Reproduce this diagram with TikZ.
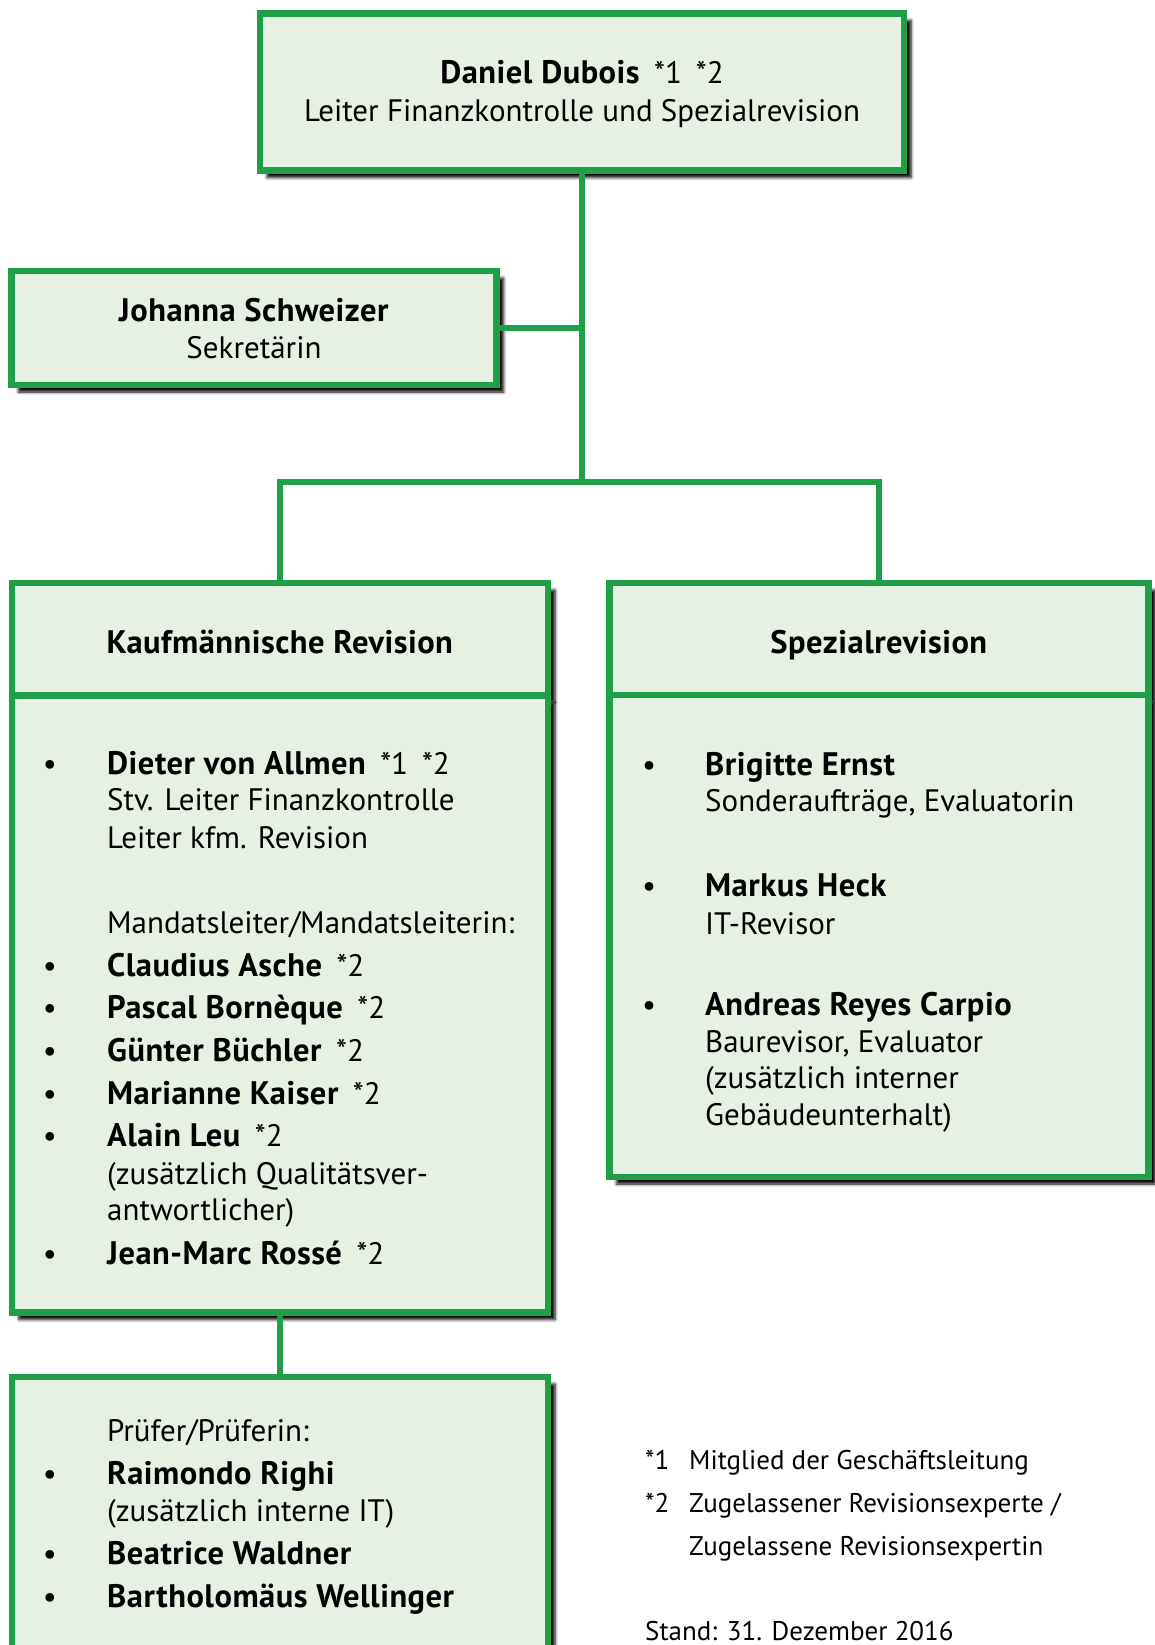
\documentclass[tikz,border=0pt]{standalone}
\usepackage{fontspec}
\setmainfont{PT Sans}[BoldFeatures={Scale=1.05, LetterSpace=1.5}]
\usetikzlibrary{positioning,shadows.blur}
\definecolor{efkgreen}{RGB}{31,160,72}
\definecolor{efkfill}{RGB}{230,240,227}

\begin{document}
\begin{tikzpicture}[
    x=1pt, y=-1pt,
    box/.style={rectangle, draw=efkgreen, line width=6.5pt, fill=efkfill, inner sep=0pt,
        blur shadow={shadow xshift=7pt, shadow yshift=-7pt, shadow blur radius=3pt,
            shadow blur steps=5, shadow opacity=100}},
    link/.style={draw=efkgreen, line width=5.5pt},
    txt/.style={anchor=base west, inner sep=0pt, font=\fontsize{31}{37}\selectfont},
    ctxt/.style={txt, anchor=base},
    dotb/.style={txt, anchor=base},
    note/.style={txt, font=\fontsize{27}{33}\selectfont}
]
\useasboundingbox (0,0) rectangle (1154,1645);

% level 1
\node[box, minimum width=644pt, minimum height=157pt] (dubois) at (582,92) {};
\node[ctxt] (duboisname) at (582,84) {\textbf{Daniel Dubois}\hspace{14pt}*1\hspace{14pt}*2};
\node[ctxt] (duboisrole) at (582,122) {Leiter Finanzkontrolle und Spezialrevision};

% staff
\node[box, minimum width=485pt, minimum height=114pt] (schweizer) at (254,328) {};
\node[ctxt] (schweizername) at (254,321) {\textbf{Johanna Schweizer}};
\node[ctxt] (schweizerrole) at (254,358) {Sekretärin};

% level 2 - headers
\node[box, minimum width=536pt, minimum height=112pt] (kfmhead) at (280,639) {};
\node[ctxt] (kfmtitle) at (280,653) {\textbf{Kaufmännische Revision}};
\node[box, minimum width=539pt, minimum height=112pt] (spezhead) at (879,639) {};
\node[ctxt] (speztitle) at (879,653) {\textbf{Spezialrevision}};

% level 2 - bodies
\node[box, minimum width=536pt, minimum height=617pt] (kfm) at (280,1004) {};
\node[box, minimum width=539pt, minimum height=482pt] (spez) at (879,936) {};

% kfm. Revision
\node[dotb] (k1) at (50,774) {\textbullet};
\node[txt] (vonallmen) at (107,774) {\textbf{Dieter von Allmen}\hspace{14pt}*1\hspace{14pt}*2};
\node[txt] at (107,810) {Stv. Leiter Finanzkontrolle};
\node[txt] at (107,848) {Leiter kfm. Revision};
\node[txt] at (107,933) {Mandatsleiter/Mandatsleiterin:};
\node[dotb] (k2) at (50,976) {\textbullet};
\node[txt] (asche) at (107,976) {\textbf{Claudius Asche}\hspace{14pt}*2};
\node[dotb] (k3) at (50,1018) {\textbullet};
\node[txt] (borneque) at (107,1018) {\textbf{Pascal Bornèque}\hspace{14pt}*2};
\node[dotb] (k4) at (50,1061) {\textbullet};
\node[txt] (buechler) at (107,1061) {\textbf{Günter Büchler}\hspace{14pt}*2};
\node[dotb] (k5) at (50,1104) {\textbullet};
\node[txt] (kaiser) at (107,1104) {\textbf{Marianne Kaiser}\hspace{14pt}*2};
\node[dotb] (k6) at (50,1146) {\textbullet};
\node[txt] (leu) at (107,1146) {\textbf{Alain Leu}\hspace{14pt}*2};
\node[txt] at (107,1184) {(zusätzlich Qualitätsver-};
\node[txt] at (107,1220) {antwortlicher)};
\node[dotb] (k7) at (50,1264) {\textbullet};
\node[txt] (rosse) at (107,1264) {\textbf{Jean-Marc Rossé}\hspace{14pt}*2};

% Spezialrevision
\node[dotb] (s1) at (649,775) {\textbullet};
\node[txt] (ernst) at (705,775) {\textbf{Brigitte Ernst}};
\node[txt] at (705,811) {Sonderaufträge, Evaluatorin};
\node[dotb] (s2) at (649,896) {\textbullet};
\node[txt] (heck) at (705,896) {\textbf{Markus Heck}};
\node[txt] at (705,934) {IT-Revisor};
\node[dotb] (s3) at (649,1015) {\textbullet};
\node[txt] (reyes) at (705,1015) {\textbf{Andreas Reyes Carpio}};
\node[txt] at (705,1052) {Baurevisor, Evaluator};
\node[txt] at (705,1088) {(zusätzlich interner};
\node[txt] at (705,1125) {Gebäudeunterhalt)};

% level 3
\node[box, minimum width=536pt, minimum height=400pt] (pruefer) at (280,1577) {};
\node[txt] at (107,1441) {Prüfer/Prüferin:};
\node[dotb] (p1) at (50,1484) {\textbullet};
\node[txt] (righi) at (107,1484) {\textbf{Raimondo Righi}};
\node[txt] at (107,1521) {(zusätzlich interne IT)};
\node[dotb] (p2) at (50,1564) {\textbullet};
\node[txt] (waldner) at (107,1564) {\textbf{Beatrice Waldner}};
\node[dotb] (p3) at (50,1607) {\textbullet};
\node[txt] (wellinger) at (107,1607) {\textbf{Bartholomäus Wellinger}};

% legend
\node[note] (fn1) at (645,1469) {*1};
\node[note] at (689,1469) {Mitglied der Geschäftsleitung};
\node[note] (fn2) at (645,1512) {*2};
\node[note] at (689,1512) {Zugelassener Revisionsexperte /};
\node[note] at (689,1555) {Zugelassene Revisionsexpertin};
\node[note] (stand) at (645,1640) {Stand: 31. Dezember 2016};

% connectors
\coordinate (bar) at (582,482);
\coordinate (barL) at (280,482);
\coordinate (barR) at (879,482);
\draw[link] (dubois.south) -- (bar);
\draw[link] (schweizer.east) -- (schweizer.east -| bar);
\draw[link] (kfmhead.north) -- (barL) -- (barR) -- (spezhead.north);
\draw[link] (kfm.south) -- (pruefer.north);
\end{tikzpicture}
\end{document}
